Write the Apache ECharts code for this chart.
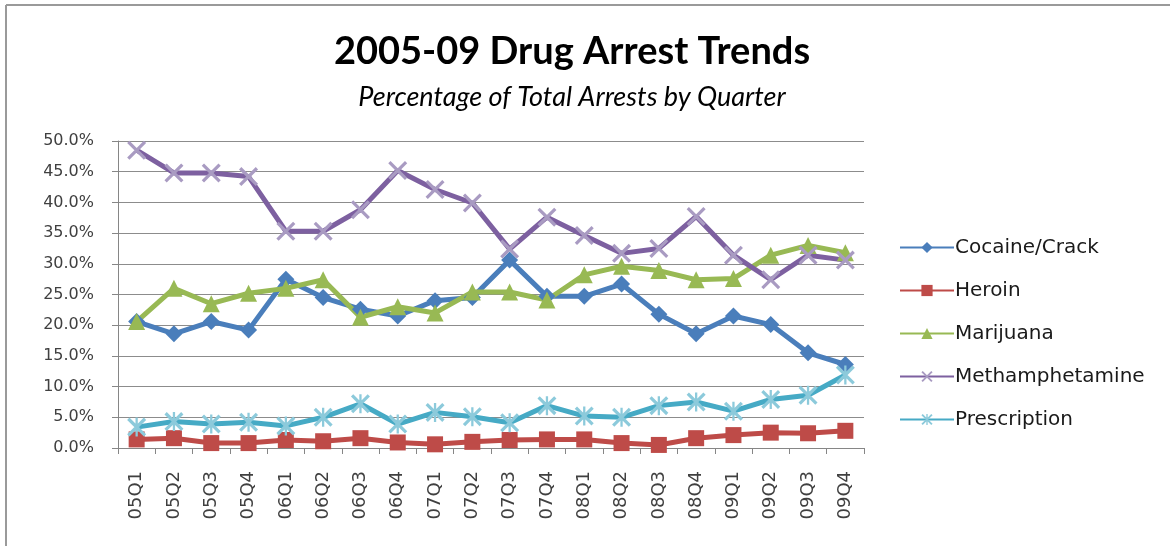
<!DOCTYPE html>
<html><head><meta charset="utf-8">
<script src="https://cdn.jsdelivr.net/npm/echarts@6/dist/echarts.min.js"></script>
<style>html,body{margin:0;padding:0;background:#fff}#c{width:1170px;height:546px}</style>
</head><body><div id="c"></div>
<script>
const quarters = ['05Q1','05Q2','05Q3','05Q4','06Q1','06Q2','06Q3','06Q4','07Q1','07Q2','07Q3','07Q4','08Q1','08Q2','08Q3','08Q4','09Q1','09Q2','09Q3','09Q4'];
const cocaine = [20.6,18.6,20.6,19.2,27.5,24.5,22.6,21.5,24.0,24.5,30.6,24.7,24.7,26.7,21.8,18.6,21.5,20.1,15.5,13.6];
const heroin = [1.4,1.6,0.8,0.8,1.3,1.1,1.6,0.9,0.6,1.0,1.3,1.4,1.4,0.8,0.5,1.6,2.1,2.5,2.4,2.8];
const marijuana = [20.6,26.0,23.5,25.2,26.0,27.4,21.3,23.0,22.0,25.4,25.4,24.1,28.2,29.6,28.9,27.4,27.6,31.4,33.0,31.8];
const meth = [48.5,44.8,44.8,44.2,35.3,35.3,38.8,45.2,42.1,39.9,32.4,37.6,34.6,31.7,32.5,37.7,31.4,27.4,31.4,30.6];
const prescription = [3.4,4.3,3.9,4.2,3.6,5.0,7.2,3.9,5.8,5.1,4.1,6.9,5.2,5.0,6.9,7.5,6.0,7.9,8.6,11.9];
const seriesNames = ['Cocaine/Crack','Heroin','Marijuana','Methamphetamine','Prescription'];
const titleText = '2005-09 Drug Arrest Trends';
const subtitleText = 'Percentage of Total Arrests by Quarter';

const xSym = 'path://M0,1.2L1.2,0L10,8.8L8.8,10Z M8.8,0L10,1.2L1.2,10L0,8.8Z';
const starSym = 'path://M0,1.2L1.2,0L10,8.8L8.8,10Z M8.8,0L10,1.2L1.2,10L0,8.8Z M4.4,0L5.6,0L5.6,10L4.4,10Z';

const chart = echarts.init(document.getElementById('c'));
const tFont = 'Lato, "Open Sans", sans-serif';
const aFont = '"DejaVu Sans", sans-serif';
function mk(name, data, color, symbol, size, symColor) {
  return {
    name, type: 'line', data, symbol, symbolSize: size,
    lineStyle: {color, width: 5},
    itemStyle: {color: symColor || color, borderWidth: 0},
    emphasis: {disabled: true},
    z: 2
  };
}
chart.setOption({
  animation: false,
  backgroundColor: '#fff',
  graphic: [
    {type: 'line', shape: {x1: 6, y1: 5, x2: 1170, y2: 5}, style: {stroke: '#9a9a9a', lineWidth: 2}},
    {type: 'line', shape: {x1: 6, y1: 5, x2: 6, y2: 546}, style: {stroke: '#9a9a9a', lineWidth: 2}},
    {type: 'text', x: 572, y: 52, style: {text: titleText, textAlign: 'center', textVerticalAlign: 'middle',
      font: 'bold 38px ' + tFont, fill: '#000'}},
    {type: 'text', x: 572, y: 97, style: {text: subtitleText, textAlign: 'center', textVerticalAlign: 'middle',
      font: 'italic 27px ' + tFont, fill: '#000'}}
  ],
  legend: {
    orient: 'vertical', left: 894, top: 232, itemGap: 22, itemWidth: 54, itemHeight: 14,
    textStyle: {fontFamily: aFont, fontSize: 20, lineHeight: 21, color: '#1a1a1a', padding: [0,0,0,-4]},
    data: seriesNames
  },
  grid: {left: 118, right: 306, top: 141, bottom: 98, containLabel: false},
  xAxis: {
    type: 'category', data: quarters, boundaryGap: true,
    axisLine: {lineStyle: {color: '#868686', width: 1}},
    axisTick: {show: true, alignWithLabel: false, length: 6, lineStyle: {color: '#868686'}},
    axisLabel: {rotate: 90, fontFamily: aFont, fontSize: 18, color: '#404040', margin: 23}
  },
  yAxis: {
    type: 'value', min: 0, max: 50, interval: 5,
    axisLine: {show: true, lineStyle: {color: '#868686'}},
    axisTick: {show: true, inside: false, length: 6, lineStyle: {color: '#868686'}},
    splitLine: {lineStyle: {color: '#8c8c8c', width: 1}},
    axisLabel: {fontFamily: aFont, fontSize: 16, color: '#404040', margin: 24,
      formatter: v => v.toFixed(1) + '%'}
  },
  series: [
    mk(seriesNames[0], cocaine, '#4A7EBB', 'diamond', 17),
    mk(seriesNames[1], heroin, '#BE4B48', 'rect', 16),
    mk(seriesNames[2], marijuana, '#98B954', 'triangle', 17),
    mk(seriesNames[3], meth, '#7D60A0', xSym, 19, '#a99bc2'),
    mk(seriesNames[4], prescription, '#46AAC5', starSym, 19, '#8ccadb')
  ]
});
</script></body></html>
